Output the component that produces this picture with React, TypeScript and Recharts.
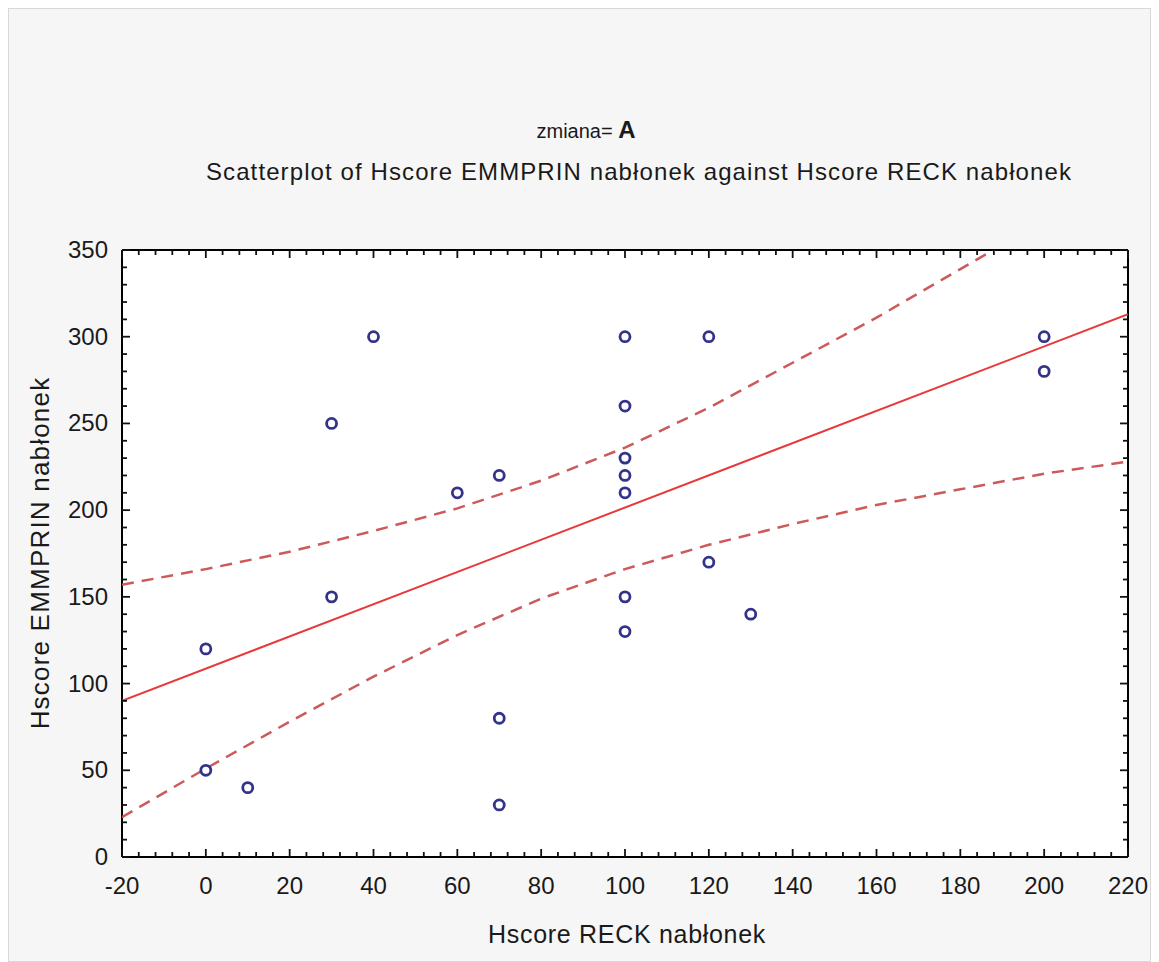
import {
  CartesianGrid,
  Scatter,
  ScatterChart,
  XAxis,
  YAxis,
} from 'recharts';

// Hscore RECK nabłonek (x) vs Hscore EMMPRIN nabłonek (y)
const reckX = [0, 0, 10, 30, 30, 40, 60, 70, 70, 70, 100, 100, 100, 100, 100, 100, 100, 120, 120, 130, 200, 200];
const emmprinY = [120, 50, 40, 250, 150, 300, 210, 220, 80, 30, 300, 260, 230, 220, 210, 150, 130, 300, 170, 140, 300, 280];

// regression line, read at both ends of the axis
const fitX = [-20, 220];
const fitY = [90, 313];

// 95% confidence band
const bandX = [-20, 0, 20, 40, 60, 80, 100, 120, 140, 160, 180, 200, 220];
const upperY = [157, 166, 176, 188, 201, 217, 236, 259, 285, 311, 339, 367, 396];
const lowerY = [23, 51, 78, 104, 128, 149, 166, 180, 192, 203, 212, 221, 228];

const xTicks = Array.from({ length: 61 }, (_, i) => -20 + i * 4);
const yTicks = Array.from({ length: 36 }, (_, i) => i * 10);

const points = reckX.map((x, i) => ({ x, y: emmprinY[i] }));
const fitLine = fitX.map((x, i) => ({ x, y: fitY[i] }));
const upperBand = bandX.map((x, i) => ({ x, y: upperY[i] }));
const lowerBand = bandX.map((x, i) => ({ x, y: lowerY[i] }));

const font = '"Liberation Sans", Arial, sans-serif';
const tickColor = '#111';

const BottomTick = (props: any) => {
  const { x, y, payload } = props;
  const major = payload.value % 20 === 0;
  return (
    <g>
      <line x1={x} x2={x} y1={y} y2={y - (major ? 8 : 5)} stroke={tickColor} strokeWidth={1.8} />
      {major && (
        <text x={x} y={y + 37} textAnchor='middle' fontSize={24} fill='#1a1a1a' fontFamily={font}>
          {payload.value}
        </text>
      )}
    </g>
  );
};

const TopTick = (props: any) => {
  const { x, y, payload } = props;
  const major = payload.value % 20 === 0;
  return <line x1={x} x2={x} y1={y} y2={y + (major ? 8 : 5)} stroke={tickColor} strokeWidth={1.8} />;
};

const LeftTick = (props: any) => {
  const { x, y, payload } = props;
  const major = payload.value % 50 === 0;
  return (
    <g>
      <line x1={x} x2={x + (major ? 8 : 5)} y1={y} y2={y} stroke={tickColor} strokeWidth={1.8} />
      {major && (
        <text x={x - 14} y={y + 8} textAnchor='end' fontSize={24} fill='#1a1a1a' fontFamily={font}>
          {payload.value}
        </text>
      )}
    </g>
  );
};

const RightTick = (props: any) => {
  const { x, y, payload } = props;
  const major = payload.value % 50 === 0;
  return <line x1={x} x2={x - (major ? 8 : 5)} y1={y} y2={y} stroke={tickColor} strokeWidth={1.8} />;
};

const Ring = (props: any) => (
  <circle cx={props.cx} cy={props.cy} r={5} fill='none' stroke='#33338c' strokeWidth={2.8} />
);

const NoDot = () => <g />;

const axisLine = { stroke: '#000', strokeWidth: 2 };

const App = () => {
  return (
    <div
      style={{
        position: 'relative',
        width: 1141,
        height: 952,
        border: '1px solid #d8d8d8',
        background: '#f6f6f6',
        fontFamily: font,
        color: '#1a1a1a',
      }}
    >
      <div style={{ position: 'absolute', left: 577, top: 107, transform: 'translateX(-50%)', whiteSpace: 'nowrap', fontSize: 20 }}>
        zmiana= <b style={{ fontSize: 24 }}>A</b>
      </div>
      <div
        style={{
          position: 'absolute',
          left: 630,
          top: 149,
          transform: 'translateX(-50%)',
          whiteSpace: 'nowrap',
          fontSize: 24,
          letterSpacing: 1.1,
        }}
      >
        Scatterplot of Hscore EMMPRIN nabłonek against Hscore RECK nabłonek
      </div>
      <div
        style={{
          position: 'absolute',
          left: 618,
          top: 911,
          transform: 'translateX(-50%)',
          whiteSpace: 'nowrap',
          fontSize: 25,
          letterSpacing: 0.7,
        }}
      >
        Hscore RECK nabłonek
      </div>
      <div
        style={{
          position: 'absolute',
          left: 31,
          top: 544,
          transform: 'translate(-50%, -50%) rotate(-90deg)',
          whiteSpace: 'nowrap',
          fontSize: 26,
          letterSpacing: 1.2,
        }}
      >
        Hscore EMMPRIN nabłonek
      </div>
      <ScatterChart
        width={1141}
        height={952}
        margin={{ top: 240, right: 21, bottom: 44, left: 53 }}
      >
        <CartesianGrid horizontal={false} vertical={false} fill='#fff' />
        <XAxis
          xAxisId='bottom'
          dataKey='x'
          type='number'
          domain={[-20, 220]}
          ticks={xTicks}
          interval={0}
          tickSize={0}
          tickMargin={0}
          tickLine={false}
          tick={<BottomTick />}
          axisLine={axisLine}
          height={60}
          allowDataOverflow
        />
        <XAxis
          xAxisId='top'
          orientation='top'
          dataKey='x'
          type='number'
          domain={[-20, 220]}
          ticks={xTicks}
          interval={0}
          tickSize={0}
          tickMargin={0}
          tickLine={false}
          tick={<TopTick />}
          axisLine={axisLine}
          height={1}
          allowDataOverflow
        />
        <YAxis
          yAxisId='left'
          dataKey='y'
          type='number'
          domain={[0, 350]}
          ticks={yTicks}
          interval={0}
          tickSize={0}
          tickMargin={0}
          tickLine={false}
          tick={<LeftTick />}
          axisLine={axisLine}
          width={60}
          allowDataOverflow
        />
        <YAxis
          yAxisId='right'
          orientation='right'
          dataKey='y'
          type='number'
          domain={[0, 350]}
          ticks={yTicks}
          interval={0}
          tickSize={0}
          tickMargin={0}
          tickLine={false}
          tick={<RightTick />}
          axisLine={axisLine}
          width={1}
          allowDataOverflow
        />
        {/* invisible series so the mirrored top/right frame axes get drawn */}
        <Scatter
          xAxisId='top'
          yAxisId='right'
          data={points}
          shape={<NoDot />}
          isAnimationActive={false}
        />
        <Scatter
          xAxisId='bottom'
          yAxisId='left'
          data={upperBand}
          line={{ stroke: '#cc5a5a', strokeWidth: 2.5, strokeDasharray: '12 8' }}
          shape={<NoDot />}
          isAnimationActive={false}
        />
        <Scatter
          xAxisId='bottom'
          yAxisId='left'
          data={lowerBand}
          line={{ stroke: '#cc5a5a', strokeWidth: 2.5, strokeDasharray: '12 8' }}
          shape={<NoDot />}
          isAnimationActive={false}
        />
        <Scatter
          xAxisId='bottom'
          yAxisId='left'
          data={fitLine}
          line={{ stroke: '#e8383a', strokeWidth: 2 }}
          shape={<NoDot />}
          isAnimationActive={false}
        />
        <Scatter
          xAxisId='bottom'
          yAxisId='left'
          data={points}
          shape={<Ring />}
          isAnimationActive={false}
        />
      </ScatterChart>
    </div>
  );
};

export default App;
